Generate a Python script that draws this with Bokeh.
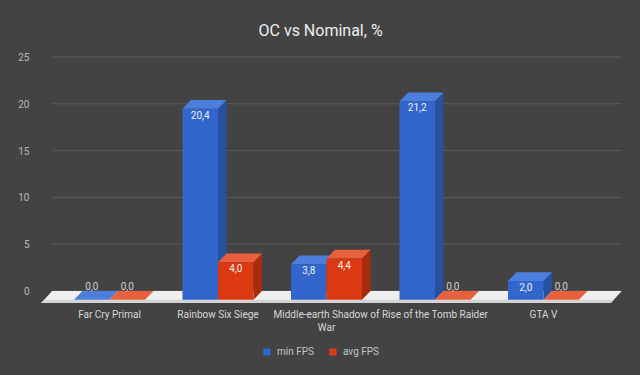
from bokeh.plotting import figure
from bokeh.models import (ColumnDataSource, FixedTicker, Legend, LegendItem,
                          GlobalInlineStyleSheet, Range1d)
from bokeh.core.properties import value
from bokeh.embed import file_html
from bokeh.resources import INLINE

# ---------------- data ----------------
title_text = "OC vs Nominal, %"
categories = ["Far Cry Primal", "Rainbow Six Siege", "Middle-earth Shadow of\nWar",
              "Rise of the Tomb Raider", "GTA V"]
series_names = ["min FPS", "avg FPS"]
min_fps = [0.0, 20.4, 3.8, 21.2, 2.0]
avg_fps = [0.0, 4.0, 4.4, 0.0, 0.0]
y_ticks = [0, 5, 10, 15, 20, 25]

# ---------------- style ----------------
BG = "#434343"
FONT = "Roboto"
front_colors = ["#3366CC", "#DC3912"]
top_colors = ["#4C7FDD", "#E8603C"]
side_colors = ["#27509F", "#A82B0E"]

W, H = 640, 375
PX_X = 108.5          # px per category
PX_Y = 9.36           # px per unit
frame_l, frame_r = 40, 622
frame_t, frame_b = 45, 375
zero_px = 290.5       # back-plane zero
cat0_px = 109.0

x_start = -(cat0_px - frame_l) / PX_X
x_end = x_start + (frame_r - frame_l) / PX_X
y_end = (zero_px - frame_t) / PX_Y
y_start = -(frame_b - zero_px) / PX_Y

bar_w = 35.5 / PX_X
dxb = 8.5 / PX_X
dyb = 8.7 / PX_Y
dxf = 11.0 / PX_X
dyf = 12.0 / PX_Y
floor_l = -0.63
floor_r = len(categories) - 1 + 0.62

p = figure(width=W, height=H, frame_width=frame_r - frame_l, frame_height=frame_b - frame_t,
           output_backend="svg", toolbar_location=None, x_axis_location=None,
           x_range=Range1d(x_start, x_end), y_range=Range1d(y_start, y_end),
           min_border_left=frame_l, min_border_right=W - frame_r,
           min_border_top=frame_t, min_border_bottom=0,
           background_fill_color=BG, border_fill_color=BG, outline_line_color=None)
p.stylesheets = [GlobalInlineStyleSheet(css="body { background-color: #434343; }")]

p.title.text = title_text
p.title.align = "left"
p.title.offset = 218
p.title.text_font = FONT
p.title.text_font_size = "16px"
p.title.text_font_style = "normal"
p.title.text_color = "#eeeeee"
p.title.standoff = 11

p.grid.grid_line_color = None

# gridlines at back plane
p.segment(x0=[floor_l + dxf] * len(y_ticks), x1=[floor_r + dxf] * len(y_ticks),
          y0=y_ticks, y1=y_ticks, line_color="#5c5c5c", line_width=1)

# floor
p.patch(x=[floor_l + dxf, floor_r + dxf, floor_r, floor_l],
        y=[0, 0, -dyf, -dyf], fill_color="#efefef", line_color=None)
p.patch(x=[floor_l + dxf * (1 - dyb / dyf), floor_r + dxf * (1 - dyb / dyf), floor_r, floor_l],
        y=[-dyb, -dyb, -dyf, -dyf], fill_color="#d4d4d4", line_color=None)

legend_items = []
lab_in = dict(x=[], y=[], t=[])
lab_out = dict(x=[], y=[], t=[])
for s, vals in enumerate([min_fps, avg_fps]):
    xs_side, ys_side, xs_top, ys_top = [], [], [], []
    left, right, top = [], [], []
    for i, v in enumerate(vals):
        x0 = i - bar_w + s * bar_w
        x1 = x0 + bar_w
        xs_side.append([x1, x1, x1 + dxb, x1 + dxb])
        ys_side.append([-dyb, v - dyb, v, 0])
        xs_top.append([x0, x1, x1 + dxb, x0 + dxb])
        ys_top.append([v - dyb, v - dyb, v, v])
        left.append(x0); right.append(x1); top.append(v - dyb)
        txt = f"{v:.1f}".replace(".", ",")
        if v > 0:
            lab_in["x"].append((x0 + x1) / 2); lab_in["y"].append(v - dyb); lab_in["t"].append(txt)
        else:
            lab_out["x"].append((x0 + x1) / 2); lab_out["y"].append(0); lab_out["t"].append(txt)
    p.patches(xs=xs_side, ys=ys_side, fill_color=side_colors[s], line_color=None)
    p.patches(xs=xs_top, ys=ys_top, fill_color=top_colors[s], line_color=None)
    r = p.quad(left=left, right=right, bottom=[-dyb] * len(vals), top=top,
               fill_color=front_colors[s], line_color=None)
    legend_items.append(LegendItem(label=series_names[s], renderers=[r]))

p.text(x="x", y="y", text="t", source=ColumnDataSource(lab_in),
       text_align="center", text_baseline="top", y_offset=2,
       text_font=value(FONT), text_font_size="10px", text_color="#eeeeee")
p.text(x="x", y="y", text="t", source=ColumnDataSource(lab_out),
       text_align="center", text_baseline="bottom", y_offset=-1,
       text_font=value(FONT), text_font_size="10px", text_color="#d0d0d0")

# category labels (x axis)
p.text(x=list(range(len(categories))), y=[0] * len(categories), text=categories,
       text_align="center", text_baseline="top", y_offset=18, text_line_height=1.17,
       text_font=value(FONT), text_font_size="10px", text_color="#d8d8d8")

# y axis
p.yaxis.ticker = FixedTicker(ticks=y_ticks)
p.yaxis.axis_line_color = None
p.yaxis.major_tick_line_color = None
p.yaxis.minor_tick_line_color = None
p.yaxis.major_label_text_font = FONT
p.yaxis.major_label_text_font_size = "10px"
p.yaxis.major_label_text_color = "#b8b8b8"
p.yaxis.major_label_standoff = 5

legend = Legend(items=legend_items, orientation="horizontal", location=(222, 18),
                background_fill_alpha=0, border_line_color=None,
                label_text_font=FONT, label_text_font_size="10px",
                label_text_color="#c4c4c4", glyph_width=9, glyph_height=9,
                label_standoff=6, spacing=14, padding=0, margin=0)
p.add_layout(legend)

open("out.html", "w").write(file_html(p, INLINE))
